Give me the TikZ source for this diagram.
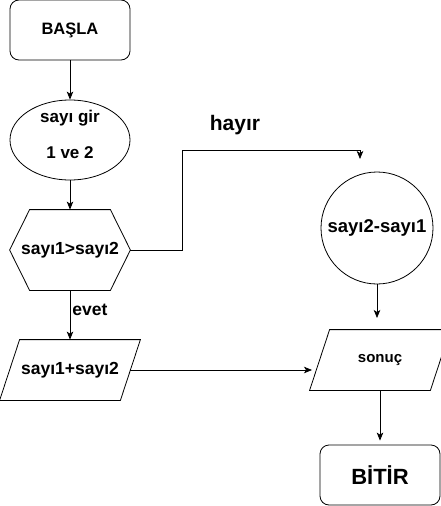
\documentclass[tikz,border=0pt]{standalone}
\usepackage{fontspec}
\setmainfont{Liberation Sans}
\usetikzlibrary{calc,shapes.geometric,arrows.meta}

\tikzset{
  yazi/.style={font=\fontsize{#1}{#1}\selectfont\bfseries},
  kutu/.style={draw, rounded corners=9pt, minimum width=120pt, minimum height=60pt, inner sep=0pt},
  govde/.style={minimum width=120pt, minimum height=#1, inner sep=0pt},
  ok/.style={-{Stealth[length=8pt,width=6.5pt,inset=2pt]}}
}

\begin{document}
\begin{tikzpicture}[x=1pt, y=-1pt, line width=0.8pt]

% ----- Frame -----
\useasboundingbox (0,0) rectangle (441,506);

% ----- Left column -----
\node[kutu, yazi=16.5pt] (basla) at (70,30) {BAŞLA};

\node[draw, ellipse, minimum width=120pt, minimum height=80pt, inner sep=0pt] (giris) at (70,140) {};
\node[yazi=17pt] (giris1) at (70,118) {sayı gir};
\node[yazi=17pt] (giris2) at (70,153) {1 ve 2};

% hexagon round a plain node
\node[govde=80pt, yazi=17.5pt] (kosul) at (70,250) {sayı1>sayı2};
\draw (kosul.west) -- ($(kosul.north west)+(20,0)$) -- ($(kosul.north east)+(-20,0)$)
  -- (kosul.east) -- ($(kosul.south east)+(-20,0)$) -- ($(kosul.south west)+(20,0)$) -- cycle;

% parallelogram
\node[govde=60pt, yazi=17.5pt] (toplam) at (70,370) {sayı1+sayı2};
\draw ($(toplam.north west)+(10,0)$) -- ($(toplam.north east)+(10,0)$)
  -- ($(toplam.south east)+(-10,0)$) -- ($(toplam.south west)+(-10,0)$) -- cycle;

% ----- Right column -----
\node[draw, circle, minimum size=112pt, inner sep=0pt, yazi=18.5pt] (fark) at (377,228) {sayı2-sayı1};

\node[govde=60pt, yazi=15pt] (sonuc) at (380,360) {sonuç};
\draw ($(sonuc.north west)+(10,0)$) -- ($(sonuc.north east)+(10,0)$)
  -- ($(sonuc.south east)+(-10,0)$) -- ($(sonuc.south west)+(-10,0)$) -- cycle;

\node[kutu, yazi=22pt] (bitir) at (380,475) {BİTİR};

% ----- Free ends -----
\coordinate (kirik) at (182,150);
\coordinate (hayirUc) at (360,159);
\coordinate (farkUc) at (377,318);
\coordinate (toplamUc) at (312,370);

% ----- Arrows -----
\draw[ok] (basla) -- (giris);
\draw[ok] (giris) -- (kosul);
\draw[ok] (kosul) -- (toplam);
\draw[ok] (kosul.east) -| (kirik) -| (hayirUc);
\draw[ok] (fark.south) -- (farkUc);
\draw[ok] (toplam.east) -- (toplamUc);
\draw[ok, shorten >=4pt] (sonuc.south) -- (bitir);

% ----- Labels -----
\node[yazi=17.5pt] (evet) at (90,310) {evet};
\node[yazi=21pt] (hayir) at (235,125) {hayır};

\end{tikzpicture}
\end{document}
